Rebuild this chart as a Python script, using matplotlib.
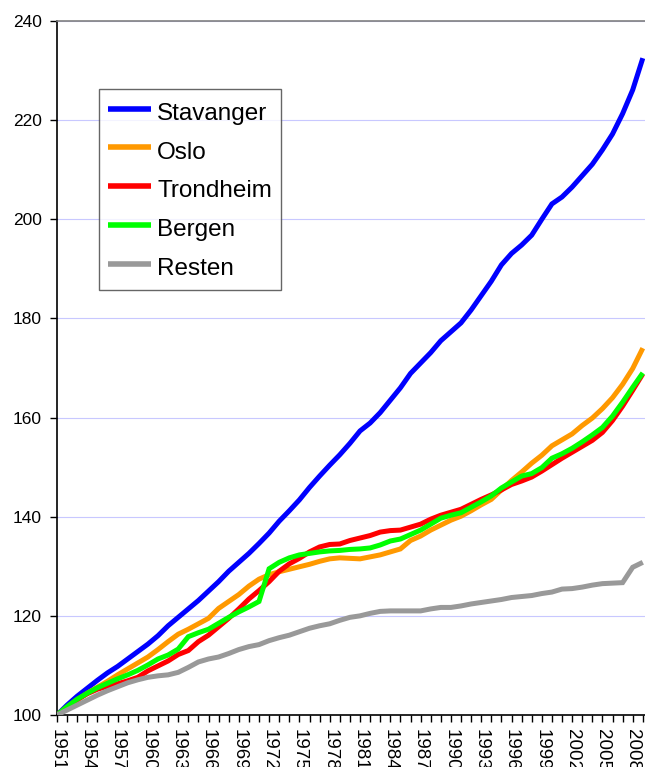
import matplotlib
matplotlib.use("Agg")
import matplotlib.pyplot as plt

years = list(range(1951, 2010))

stavanger = [100.0, 102.0, 103.8, 105.4, 107.0, 108.5, 109.8, 111.3, 112.8, 114.3,
             116.0, 118.0, 119.7, 121.4, 123.1, 125.0, 126.9, 129.0, 130.8, 132.6,
             134.6, 136.7, 139.1, 141.2, 143.4, 145.9, 148.2, 150.4, 152.5, 154.8,
             157.3, 158.9, 161.0, 163.5, 166.0, 168.9, 171.0, 173.1, 175.5, 177.3,
             179.1, 181.7, 184.6, 187.5, 190.8, 193.1, 194.8, 196.8, 200.0, 203.1,
             204.5, 206.5, 208.8, 211.1, 214.0, 217.2, 221.3, 226.1, 232.5]

oslo = [100.0, 101.5, 103.0, 104.4, 105.6, 106.8, 108.1, 109.3, 110.5, 111.7,
        113.2, 114.8, 116.3, 117.3, 118.4, 119.5, 121.5, 122.9, 124.3, 126.0,
        127.4, 128.3, 128.9, 129.4, 129.9, 130.4, 131.0, 131.5, 131.7, 131.6,
        131.5, 131.9, 132.3, 132.9, 133.5, 135.2, 136.1, 137.3, 138.3, 139.3,
        140.1, 141.2, 142.4, 143.5, 145.4, 147.3, 149.0, 150.8, 152.4, 154.3,
        155.5, 156.7, 158.4, 159.9, 161.8, 164.0, 166.7, 169.9, 174.0]

trondheim = [100.0, 101.6, 103.1, 104.3, 105.2, 105.8, 106.3, 106.9, 107.6, 108.9,
             109.9, 110.9, 112.2, 113.0, 114.8, 116.1, 117.8, 119.5, 121.4, 123.4,
             125.1, 126.9, 129.0, 130.5, 131.6, 132.9, 133.9, 134.4, 134.5, 135.2,
             135.7, 136.2, 136.9, 137.2, 137.3, 137.9, 138.5, 139.5, 140.3, 140.9,
             141.5, 142.5, 143.5, 144.4, 145.4, 146.5, 147.2, 148.0, 149.2, 150.5,
             151.8, 153.0, 154.2, 155.4, 157.0, 159.4, 162.3, 165.5, 168.8]

bergen = [100.0, 101.7, 103.2, 104.4, 105.5, 106.4, 107.3, 108.1, 109.0, 110.1,
          111.3, 112.1, 113.3, 115.8, 116.6, 117.3, 118.5, 119.7, 120.8, 121.8,
          122.9, 129.5, 130.8, 131.7, 132.3, 132.6, 132.9, 133.1, 133.2, 133.4,
          133.5, 133.7, 134.3, 135.1, 135.5, 136.4, 137.3, 138.5, 139.7, 140.3,
          140.8, 141.9, 143.0, 144.2, 145.8, 147.0, 148.2, 148.7, 149.9, 151.8,
          152.7, 153.8, 155.1, 156.5, 158.0, 160.3, 163.1, 166.1, 169.0]

resten = [100.0, 101.0, 102.0, 103.0, 104.0, 104.9, 105.7, 106.5, 107.1, 107.6,
          107.9, 108.1, 108.6, 109.6, 110.7, 111.3, 111.7, 112.4, 113.2, 113.8,
          114.2, 115.0, 115.6, 116.1, 116.8, 117.5, 118.0, 118.4, 119.1, 119.7,
          120.0, 120.5, 120.9, 121.0, 121.0, 121.0, 121.0, 121.4, 121.7, 121.7,
          122.0, 122.4, 122.7, 123.0, 123.3, 123.7, 123.9, 124.1, 124.5, 124.8,
          125.4, 125.5, 125.8, 126.2, 126.5, 126.6, 126.7, 129.8, 130.8]

series_names = ["Stavanger", "Oslo", "Trondheim", "Bergen", "Resten"]
series_colors = ["#0000FF", "#FF9900", "#FF0000", "#00FF00", "#999999"]
series_values = [stavanger, oslo, trondheim, bergen, resten]

y_ticks = [100, 120, 140, 160, 180, 200, 220, 240]
label_step = 3

plt.rcParams["font.family"] = ["Liberation Sans", "DejaVu Sans"]

W, H = 645, 767
fig = plt.figure(figsize=(W / 100, H / 100), dpi=100)
fig.patch.set_facecolor("white")

left_px, right_px, top_px, bottom_px = 57, 645, 21, 715
ax = fig.add_axes([left_px / W, (H - bottom_px) / H,
                   (right_px - left_px) / W, (bottom_px - top_px) / H])

px_per_year = 10.1
ax.set_xlim(years[0], years[0] + (right_px - left_px) / px_per_year)
ax.set_ylim(100, 240)

for name, col, vals in zip(series_names, series_colors, series_values):
    ax.plot(years, vals, color=col, lw=3.6, label=name,
            solid_joinstyle="miter", solid_capstyle="butt", zorder=3)

ax.set_yticks(y_ticks)
ax.set_yticklabels([str(v) for v in y_ticks], fontsize=12.5)
ax.grid(axis="y", color="#C8C8FF", lw=0.8, zorder=1)
ax.set_axisbelow(True)

ax.set_xticks(years)
ax.set_xticklabels([str(y) if (y - years[0]) % label_step == 0 else "" for y in years],
                   rotation=-90, fontsize=13.5, va="top", ha="center")

ax.tick_params(axis="both", direction="out", length=5, width=1, color="black")
ax.tick_params(axis="x", pad=5)
ax.tick_params(axis="y", pad=6)

for s in ["left", "bottom"]:
    ax.spines[s].set_color("black")
    ax.spines[s].set_linewidth(1.2)
ax.spines["top"].set_color("#808080")
ax.spines["top"].set_linewidth(1.2)
ax.spines["right"].set_visible(False)

fs = 17.5
fs_px = fs * 100 / 72
leg = ax.legend(loc="upper left", bbox_to_anchor=(99 / W, 1 - 89 / H),
                bbox_transform=fig.transFigure, fontsize=fs, frameon=True,
                fancybox=False, shadow=False, borderpad=0.35,
                labelspacing=10 / fs_px, handleheight=35 / fs_px,
                handlelength=1.8, handletextpad=0.25, borderaxespad=0)
leg.get_frame().set_edgecolor("#404040")
leg.get_frame().set_linewidth(1.0)
for l in leg.get_lines():
    l.set_linewidth(4)

fig.savefig("out.png", dpi=100)
